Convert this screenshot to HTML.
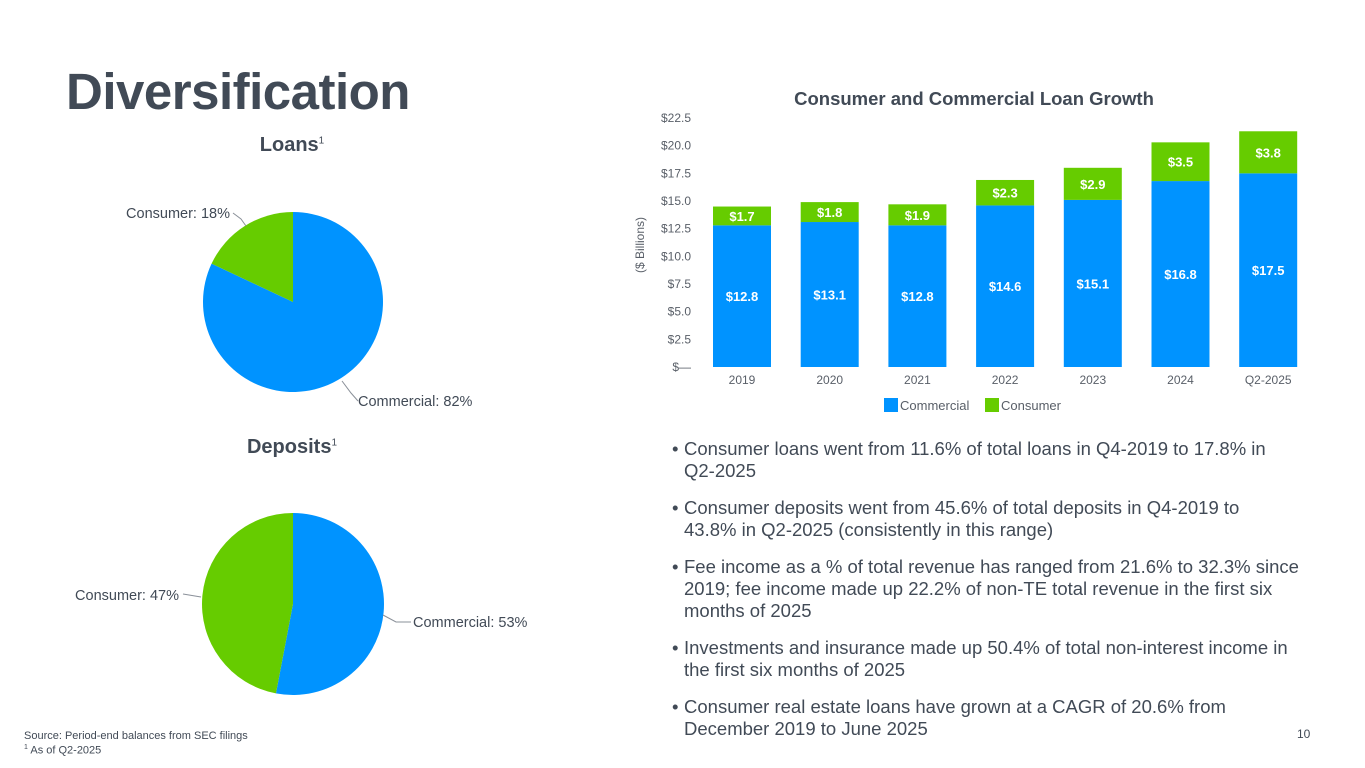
<!DOCTYPE html>
<html><head><meta charset="utf-8">
<style>
body{margin:0;width:1365px;height:768px;background:#fff;font-family:"Liberation Sans",sans-serif;color:#414a56;overflow:hidden;position:relative}
.abs{position:absolute}
#title{left:66px;top:62px;font-size:51px;font-weight:bold;letter-spacing:-0.5px}
.sub{font-size:20px;font-weight:bold;text-align:center;width:200px}
.sub sup{font-size:10px;font-weight:normal}
.bullets{left:672px;top:438px;width:680px;font-size:18.5px;line-height:22px;white-space:nowrap}
.bullets div{position:relative;padding-left:12px;margin-bottom:15px}
.bullets div:before{content:"•";position:absolute;left:0}
.foot{font-size:11px;left:24px}
</style></head><body>
<div id="title" class="abs">Diversification</div>
<div class="abs sub" style="left:192px;top:134px">Loans<sup>1</sup></div>
<div class="abs sub" style="left:192px;top:436px">Deposits<sup>1</sup></div>
<svg class="abs" style="left:0;top:0" width="640" height="768" id="pies"></svg>
<svg class="abs" style="left:0;top:0" width="1365" height="430" id="bar"></svg>
<div class="abs bullets">
<div>Consumer loans went from 11.6% of total loans in Q4-2019 to 17.8% in<br>Q2-2025</div>
<div>Consumer deposits went from 45.6% of total deposits in Q4-2019 to<br>43.8% in Q2-2025 (consistently in this range)</div>
<div>Fee income as a % of total revenue has ranged from 21.6% to 32.3% since<br>2019; fee income made up 22.2% of non-TE total revenue in the first six<br>months of 2025</div>
<div>Investments and insurance made up 50.4% of total non-interest income in<br>the first six months of 2025</div>
<div>Consumer real estate loans have grown at a CAGR of 20.6% from<br>December 2019 to June 2025</div>
</div>
<div class="abs foot" style="top:730px">Source: Period-end balances from SEC filings</div>
<div class="abs foot" style="top:744px"><sup style="font-size:7px">1</sup> As of Q2-2025</div>
<div class="abs" style="left:1297px;top:727px;font-size:12px">10</div>
<script>
const categories=["2019","2020","2021","2022","2023","2024","Q2-2025"];
const commercial=[12.8,13.1,12.8,14.6,15.1,16.8,17.5];
const consumer=[1.7,1.8,1.9,2.3,2.9,3.5,3.8];
const yTicks=[0,2.5,5,7.5,10,12.5,15,17.5,20,22.5];
const yTickLabels=["$—","$2.5","$5.0","$7.5","$10.0","$12.5","$15.0","$17.5","$20.0","$22.5"];
const loansShares=[82,18];
const depositShares=[53,47];
const BLUE="#0093ff",GREEN="#66cc00";
const NS="http://www.w3.org/2000/svg";
function mk(p,t,a){const e=document.createElementNS(NS,t);for(const k in a)e.setAttribute(k,a[k]);p.appendChild(e);return e;}
const svg=document.getElementById('bar');
const y0=367,yTop=118,yMax=22.5;
const yS=v=>y0-(v/yMax)*(y0-yTop);
const x0=742,step=87.7,bw=58;
const xS=i=>x0+i*step;
let t=mk(svg,'text',{x:974,y:105,'text-anchor':'middle','font-size':18.5,'font-weight':'bold',fill:'#414a56'});t.textContent="Consumer and Commercial Loan Growth";


yTicks.forEach((v,i)=>{const e=mk(svg,'text',{x:691,y:yS(v)+4,'text-anchor':'end','font-size':12,fill:'#595f68'});e.textContent=yTickLabels[i];

});
t=mk(svg,'text',{transform:'translate(644,245) rotate(-90)','text-anchor':'middle','font-size':12,fill:'#595f68'});t.textContent="($ Billions)";


categories.forEach((c,i)=>{
 const cx=xS(i);
 const r1=mk(svg,'rect',{x:cx-bw/2,y:yS(commercial[i]),width:bw,height:y0-yS(commercial[i]),fill:BLUE});
 
 
 const top=commercial[i]+consumer[i];
 const r2=mk(svg,'rect',{x:cx-bw/2,y:yS(top),width:bw,height:yS(commercial[i])-yS(top),fill:GREEN});
 
 
 let l=mk(svg,'text',{x:cx,y:(yS(commercial[i])+y0)/2+5,'text-anchor':'middle','font-size':13,'font-weight':'bold',fill:'#fff'});l.textContent="$"+commercial[i].toFixed(1);
 
 
 l=mk(svg,'text',{x:cx,y:(yS(top)+yS(commercial[i]))/2+5,'text-anchor':'middle','font-size':13,'font-weight':'bold',fill:'#fff'});l.textContent="$"+consumer[i].toFixed(1);
 
 
 l=mk(svg,'text',{x:cx,y:384,'text-anchor':'middle','font-size':12,fill:'#595f68'});l.textContent=c;
 
 
});
let lg=mk(svg,'rect',{x:884,y:398,width:14,height:14,fill:BLUE});


t=mk(svg,'text',{x:900,y:410,'font-size':13,fill:'#595f68'});t.textContent="Commercial";


lg=mk(svg,'rect',{x:985,y:398,width:14,height:14,fill:GREEN});


t=mk(svg,'text',{x:1001,y:410,'font-size':13,fill:'#595f68'});t.textContent="Consumer";


const ps=document.getElementById('pies');
function slice(cx,cy,r,a0,a1,fill,name){
 const p=a=>[cx+r*Math.sin(a*2*Math.PI/100),cy-r*Math.cos(a*2*Math.PI/100)];
 const [x1,y1]=p(a0),[x2,y2]=p(a1);const large=(a1-a0)>50?1:0;
 const e=mk(ps,'path',{d:`M${cx},${cy}L${x1},${y1}A${r},${r} 0 ${large} 1 ${x2},${y2}Z`,fill:fill});
 
 
}
slice(293,302,90,0,loansShares[0],BLUE,'loans-slice-commercial');
slice(293,302,90,loansShares[0],100,GREEN,'loans-slice-consumer');
slice(293,604,91,0,depositShares[0],BLUE,'deposits-slice-commercial');
slice(293,604,91,depositShares[0],100,GREEN,'deposits-slice-consumer');
function lbl(x,y,anchor,txt,name,line){
 const l=mk(ps,'polyline',{points:line,fill:'none',stroke:'#8a9099','stroke-width':1});
 
 
 const e=mk(ps,'text',{x:x,y:y,'text-anchor':anchor,'font-size':14.5,fill:'#414a56'});e.textContent=txt;
 
 
}
lbl(230,218,'end',"Consumer: "+loansShares[1]+"%",'loans-consumer-label','233,213 241,219 246,226');
lbl(358,406,'start',"Commercial: "+loansShares[0]+"%",'loans-commercial-label','342,381 351,393 358,401');
lbl(179,600,'end',"Consumer: "+depositShares[1]+"%",'deposits-consumer-label','183,594 201,597');
lbl(413,627,'start',"Commercial: "+depositShares[0]+"%",'deposits-commercial-label','383,615 396,622 411,622');
</script>
</body></html>
